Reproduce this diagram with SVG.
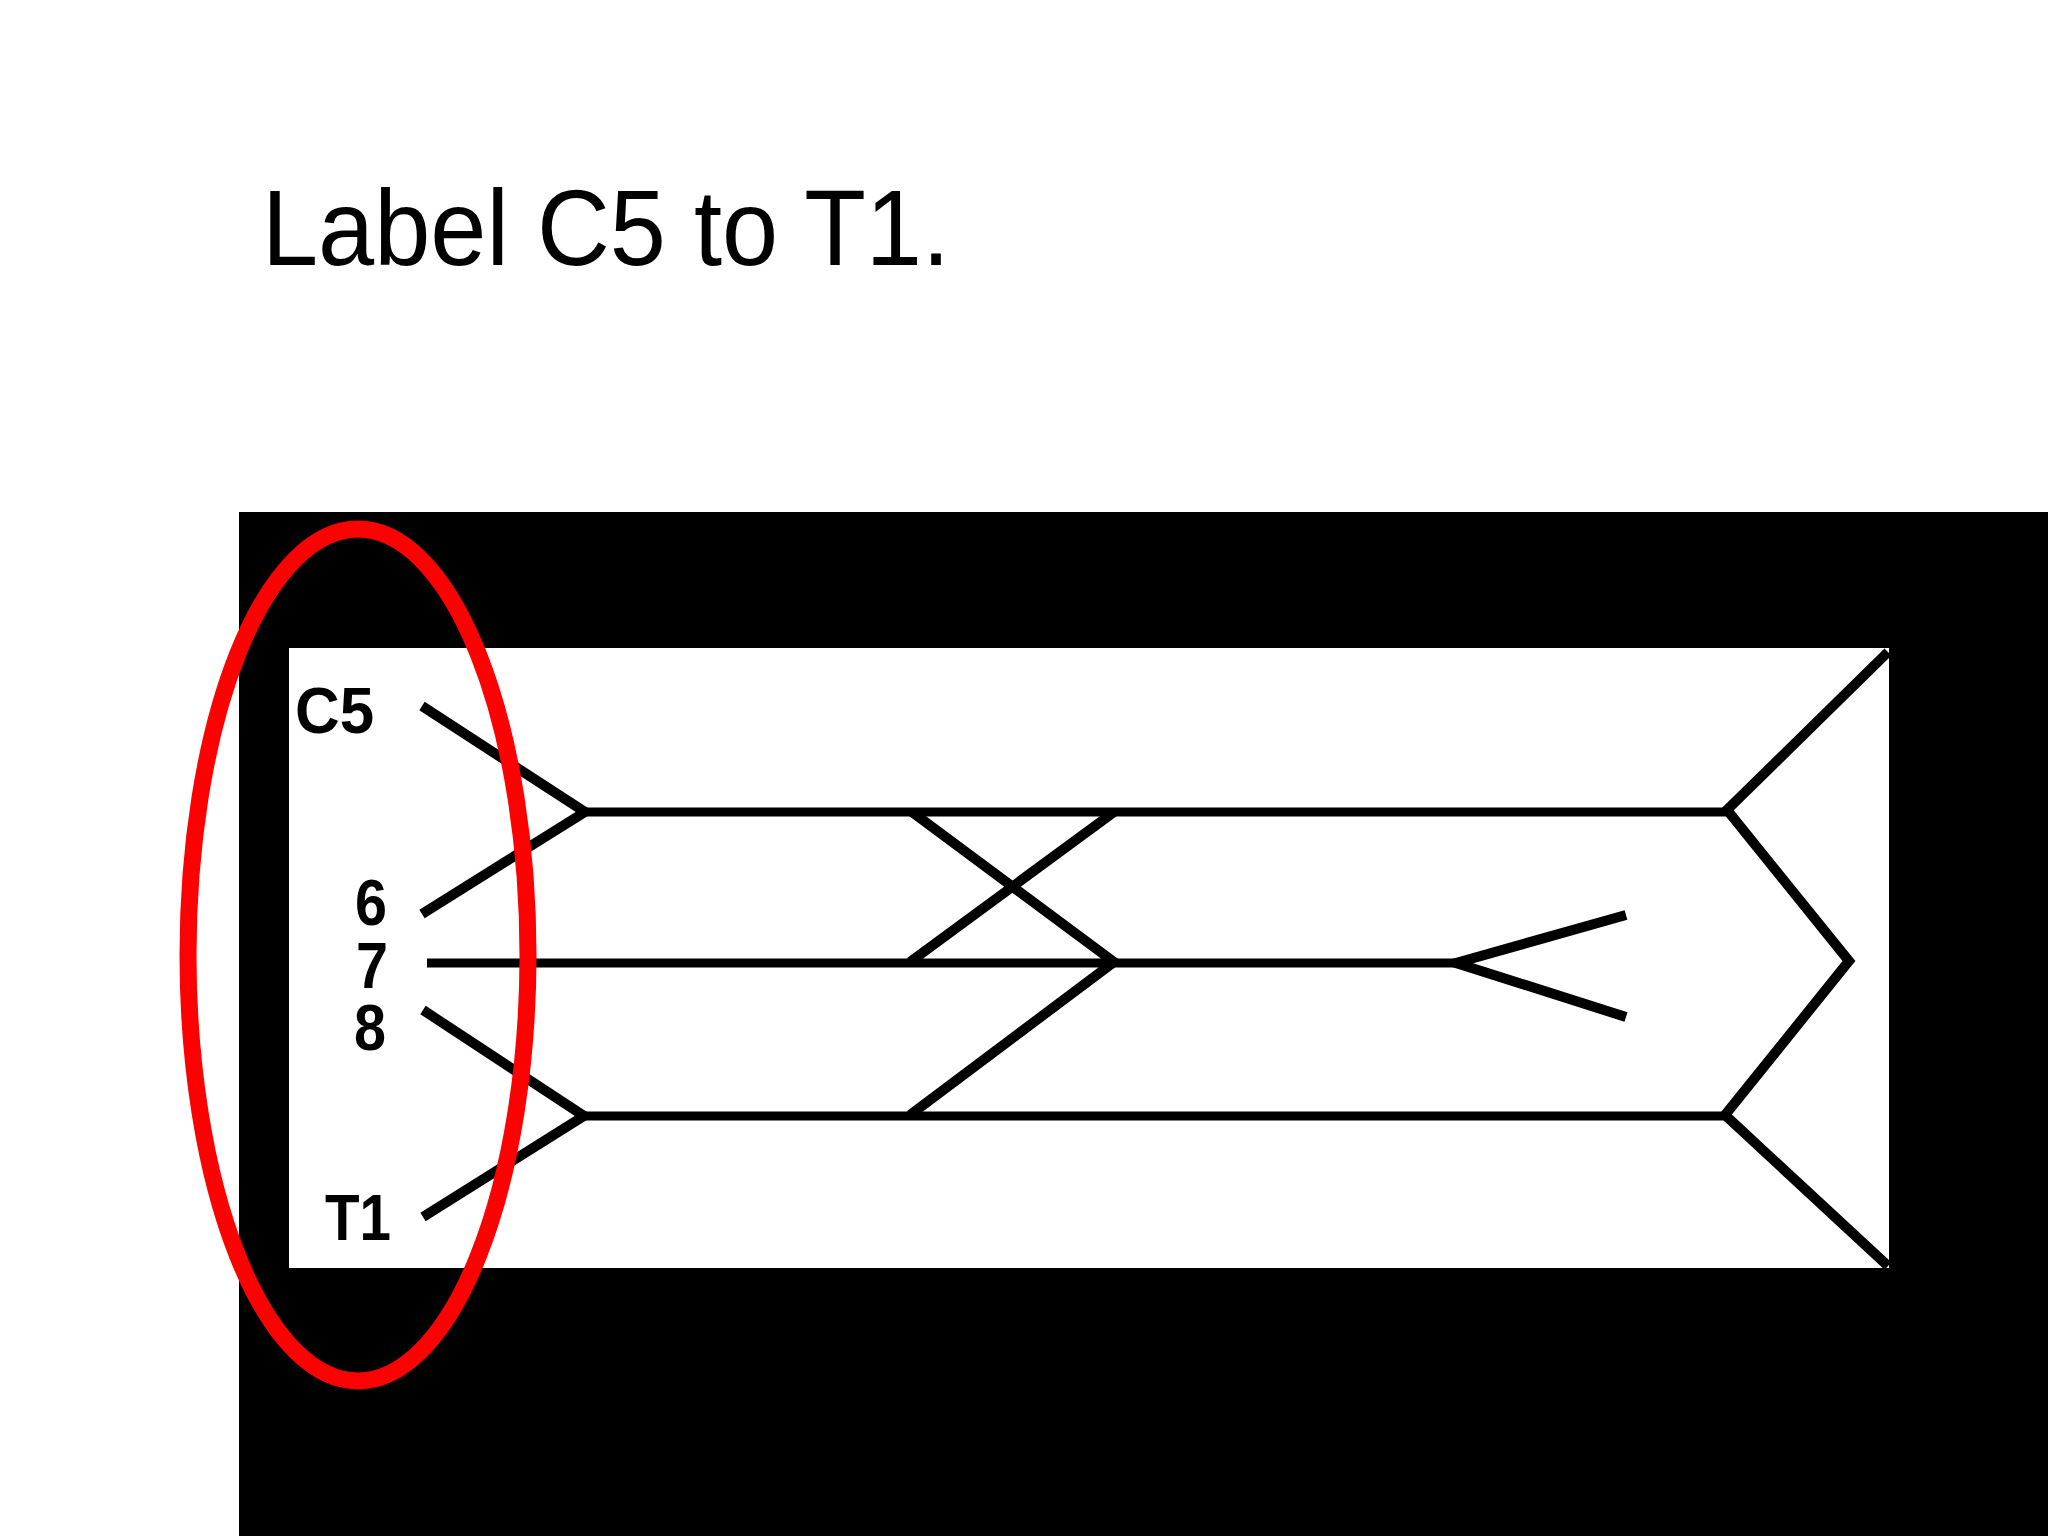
<svg xmlns="http://www.w3.org/2000/svg" width="2048" height="1536" viewBox="0 0 2048 1536">
<style>
.title{font-family:"Liberation Sans",Arial,sans-serif;font-size:108px;fill:#000}
.lbl{font-family:"Liberation Sans",Arial,sans-serif;font-weight:bold;font-size:65px;fill:#000}
.ln{stroke:#000;stroke-width:9;fill:none;stroke-linejoin:miter;stroke-linecap:butt}
.dg{stroke-width:10}
</style>
<rect x="0" y="0" width="2048" height="1536" fill="#fff"/>
<text class="title" x="262" y="265" textLength="688" lengthAdjust="spacingAndGlyphs">Label C5 to T1.</text>
<rect id="frame" x="239" y="512" width="1809" height="1024" fill="#000"/>
<rect id="panel" x="289" y="648" width="1600" height="620" fill="#fff"/>
<g id="labels">
<g id="C5"><text class="lbl" x="295" y="733" textLength="79" lengthAdjust="spacingAndGlyphs">C5</text></g>
<g id="n6"><text class="lbl" x="355" y="925" textLength="32" lengthAdjust="spacingAndGlyphs">6</text></g>
<g id="n7"><text class="lbl" x="356" y="988" textLength="32" lengthAdjust="spacingAndGlyphs">7</text></g>
<g id="n8"><text class="lbl" x="354" y="1050" textLength="32" lengthAdjust="spacingAndGlyphs">8</text></g>
<g id="T1"><text class="lbl" x="325" y="1240" textLength="66" lengthAdjust="spacingAndGlyphs">T1</text></g>
</g>
<g id="connectors">
<polyline class="ln dg" points="422,706 585,812 422,914"/>
<line class="ln" x1="585" y1="812" x2="1728" y2="812"/>
<line class="ln" x1="427" y1="963" x2="1456" y2="963"/>
<polyline class="ln dg" points="423,1010 584,1116 423,1217"/>
<line class="ln" x1="584" y1="1116" x2="1725" y2="1116"/>
<polyline class="ln dg" points="912,812 1114,962 910,1115"/>
<line class="ln dg" x1="1114" y1="812" x2="910" y2="962"/>
<polyline class="ln dg" points="1626,915 1456,963 1626,1017"/>
<polyline class="ln dg" points="1888,652 1727,810 1849,961 1725,1115 1888,1266"/>
</g>
<ellipse id="highlight" cx="358" cy="955" rx="170" ry="426" fill="none" stroke="#ff0000" stroke-width="17"/>
</svg>
